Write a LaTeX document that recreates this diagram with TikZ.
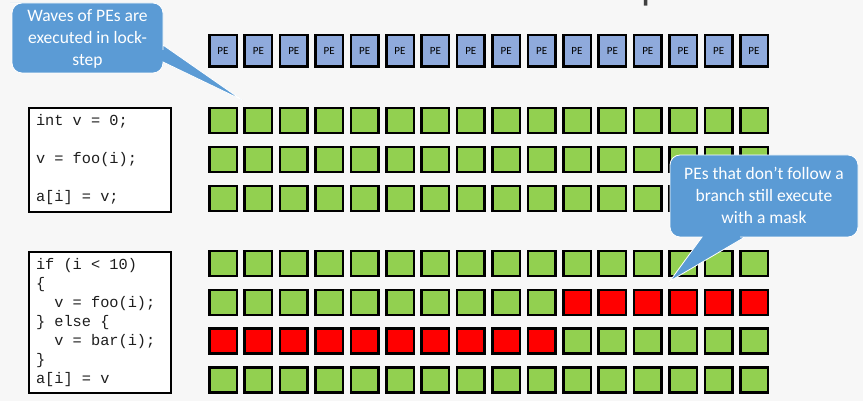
\documentclass[tikz,border=0pt]{standalone}
\usepackage{fontspec}
\setmainfont{Carlito}
\setmonofont{Liberation Mono}
\usepackage{xcolor}
\usepackage{tikz}
\definecolor{slidebg}{RGB}{247, 247, 247}
\definecolor{pefill}{RGB}{143, 170, 220}
\definecolor{lanegreen}{RGB}{146, 208, 80}
\definecolor{maskred}{RGB}{255, 0, 0}
\definecolor{calloutblue}{RGB}{91, 155, 213}
\definecolor{titlegray}{RGB}{64, 64, 64}
\definecolor{codeink}{RGB}{30, 30, 30}

\begin{document}
\begin{tikzpicture}[x=1pt, y=-1pt,
    pe/.style={rectangle, draw=black, line width=2.5pt, fill=pefill,
               minimum width=27.5pt, minimum height=31.5pt, inner sep=0pt,
               font=\fontsize{11}{13}\selectfont},
    lane/.style={rectangle, draw=black, line width=2.5pt, fill=lanegreen,
                 minimum width=27.5pt, minimum height=25pt, inner sep=0pt},
    masked/.style={lane, fill=maskred},
    codebox/.style={rectangle, draw=black, line width=2pt, fill=white,
                    minimum width=142pt, text width=128pt, inner xsep=7pt,
                    align=left, text=codeink,
                    font=\ttfamily\fontsize{15.3}{19}\selectfont,
                    execute at begin node={\spaceskip=0pt\xspaceskip=0pt\relax}},
    bubble/.style={fill=calloutblue, draw=white, line width=0.8pt},
    bubbletext/.style={align=center, text=white, inner sep=0pt,
                       font=\fontsize{17.5}{22}\selectfont}]

    \useasboundingbox (0,0) rectangle (863,401);
    \clip (0,0) rectangle (863,401);
    \fill[slidebg] (0,0) rectangle (863,401);

    % Title (cut off at the top)
    \node[anchor=base, text=titlegray, inner sep=0pt,
          font=\fontsize{41}{49}\selectfont] (title) at (445,0)
          {GPUs Execute in Lock Step};

    % PEs
    \foreach \c in {1,...,16}
        \node[pe] (pe\c) at ({223+35.4*(\c-1)}, 51) {PE};

    % Straight-line code: every lane busy
    \foreach \r/\y in {1/120.5, 2/159.5, 3/198.5}
        \foreach \c in {1,...,16}
            \node[lane] (s\r-\c) at ({223+35.4*(\c-1)}, \y) {};

    % Branch: masked lanes in red
    \foreach \r/\y in {4/263.5, 7/380}
        \foreach \c in {1,...,16}
            \node[lane] (s\r-\c) at ({223+35.4*(\c-1)}, \y) {};
    \foreach \c in {1,...,10} {
        \node[lane]   (s5-\c) at ({223+35.4*(\c-1)}, 302.3) {};
        \node[masked] (s6-\c) at ({223+35.4*(\c-1)}, 341.1) {};
    }
    \foreach \c in {11,...,16} {
        \node[masked] (s5-\c) at ({223+35.4*(\c-1)}, 302.3) {};
        \node[lane]   (s6-\c) at ({223+35.4*(\c-1)}, 341.1) {};
    }

    % Code
    \node[codebox, minimum height=104pt] (code1) at (100,160)
        {int v = 0;\\[19pt]v = foo(i);\\[19pt]a[i] = v;};
    \node[codebox, minimum height=141pt] (code2) at (100,322.5)
        {if (i < 10)\\\{\\\hphantom{xx}v = foo(i);\\\} else \{\\%
         \hphantom{xx}v = bar(i);\\\}\\a[i] = v};

    % Callouts
    \draw[bubble] (20,3) [rounded corners=10pt] -- (163,3) -- (163,40)
        [sharp corners] -- (163,45) -- (242,100) -- (163,62) -- (163,66)
        [rounded corners=10pt] -- (163,73) -- (12,73) -- (12,3) -- cycle;
    \node[bubbletext] (note1) at (87.5,39)
        {Waves of PEs are\\executed in lock-\\step};

    \draw[bubble] (670,200) [rounded corners=10pt] -- (670,155) -- (858,155)
        -- (858,237) -- (750,237) [sharp corners] -- (745,237) -- (670,281)
        -- (702,237) -- (697,237) [rounded corners=10pt] -- (670,237) -- cycle;
    \node[bubbletext] (note2) at (764,195)
        {PEs that don’t follow a\\branch still execute\\with a mask};
\end{tikzpicture}
\end{document}
